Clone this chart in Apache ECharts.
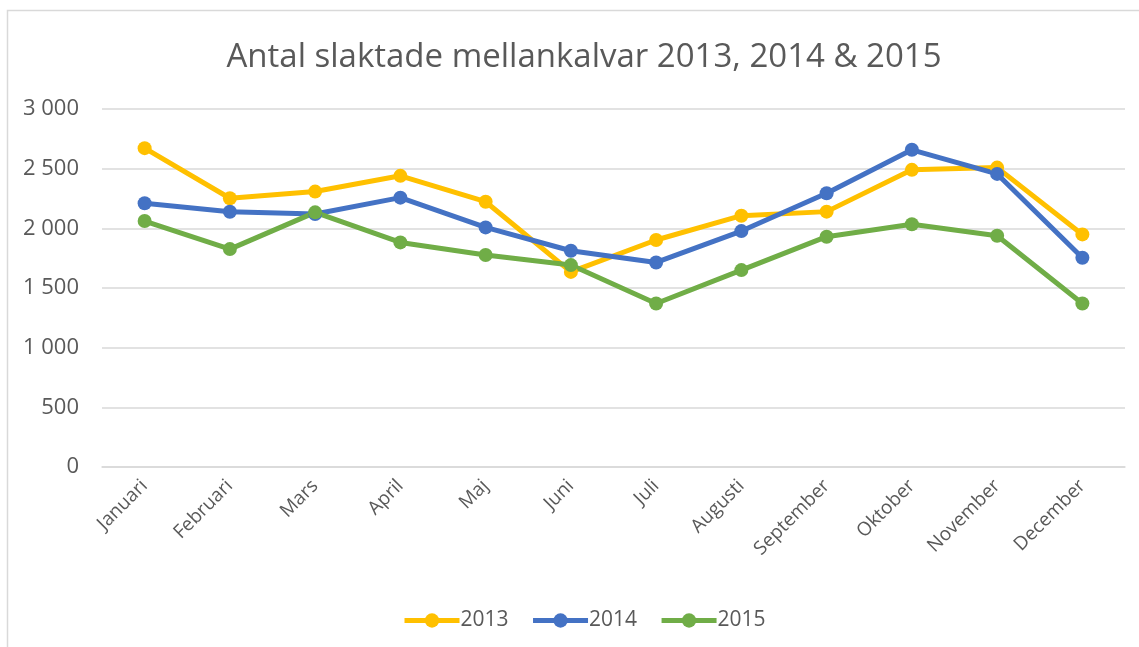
<!DOCTYPE html>
<html>
<head>
<meta charset="utf-8">
<script src="https://cdn.jsdelivr.net/npm/echarts@6/dist/echarts.min.js"></script>
<style>
  html, body { margin: 0; padding: 0; background: #fff; }
  #main { width: 1139px; height: 647px; }
</style>
</head>
<body>
<div id="main"></div>
<script>
var months = ['Januari', 'Februari', 'Mars', 'April', 'Maj', 'Juni', 'Juli', 'Augusti', 'September', 'Oktober', 'November', 'December'];
var data2013 = [2672, 2252, 2308, 2440, 2223, 1635, 1902, 2106, 2140, 2490, 2509, 1949];
var data2014 = [2210, 2139, 2120, 2257, 2008, 1812, 1714, 1977, 2294, 2658, 2456, 1753];
var data2015 = [2061, 1826, 2134, 1882, 1776, 1692, 1370, 1650, 1930, 2034, 1938, 1370];

var myChart = echarts.init(document.getElementById('main'));

function mkSeries(name, color, data) {
    return {
        name: name,
        type: 'line',
        data: data,
        symbol: 'circle',
        symbolSize: 14,
        lineStyle: { width: 5, color: color },
        itemStyle: { color: color },
        emphasis: { disabled: true }
    };
}

var option = {
    animation: false,
    graphic: [{
        type: 'rect',
        shape: { x: 7.5, y: 10.5, width: 1200, height: 700 },
        style: { fill: 'none', stroke: '#d9d9d9', lineWidth: 1.5 },
        silent: true
    }],
    title: {
        text: 'Antal slaktade mellankalvar 2013, 2014 & 2015',
        left: 579,
        top: 36,
        textAlign: 'center',
        textStyle: {
            fontFamily: '"Open Sans", sans-serif',
            fontSize: 33,
            fontWeight: 'normal',
            color: '#595959'
        }
    },
    legend: {
        data: ['2013', '2014', '2015'],
        left: 397,
        top: 605,
        itemWidth: 55,
        itemHeight: 18,
        itemGap: 22,
        lineStyle: { width: 5 },
        textStyle: { fontFamily: '"Open Sans", sans-serif', fontSize: 21, color: '#595959', padding: [0, 0, 0, -4] }
    },
    grid: { left: 102, right: 14, top: 109, bottom: 180 },
    xAxis: {
        type: 'category',
        data: months,
        axisLine: { show: true, lineStyle: { color: '#d9d9d9', width: 1.5 } },
        axisTick: { show: false },
        axisLabel: {
            rotate: 45,
            margin: 16,
            interval: 0,
            fontFamily: '"Open Sans", sans-serif',
            fontSize: 19,
            color: '#595959'
        }
    },
    yAxis: {
        type: 'value',
        min: 0,
        max: 3000,
        interval: 500,
        axisLine: { show: false },
        axisTick: { show: false },
        splitLine: { lineStyle: { color: '#d9d9d9', width: 1.5 } },
        axisLabel: {
            margin: 23,
            fontFamily: '"Open Sans", sans-serif',
            fontSize: 22,
            color: '#595959',
            formatter: function (v) {
                return String(v).replace(/\B(?=(\d{3})+(?!\d))/g, ' ');
            }
        }
    },
    series: [
        mkSeries('2013', '#FFC000', data2013),
        mkSeries('2014', '#4472C4', data2014),
        mkSeries('2015', '#70AD47', data2015)
    ]
};
myChart.setOption(option);
</script>
</body>
</html>
